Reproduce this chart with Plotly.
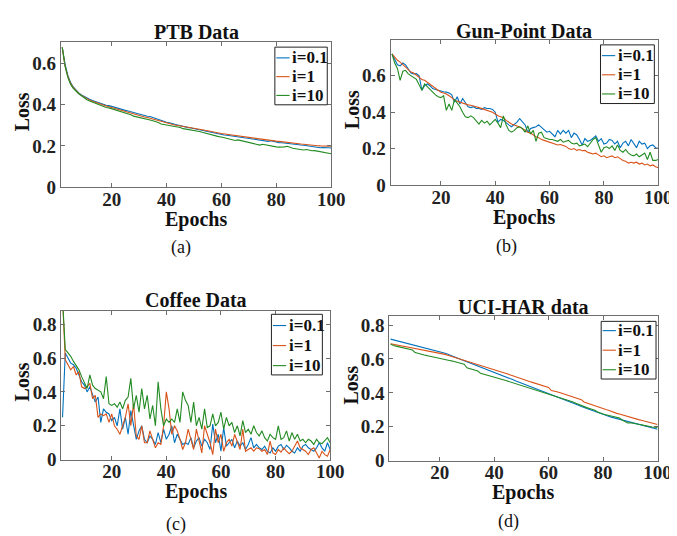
import plotly.graph_objects as go

W, H = 677, 536

epochs = list(range(2, 101))
series_names = ["i=0.1", "i=1", "i=10"]
colors = ["#0072BD", "#D95319", "#228B22"]
x_ticks = [20, 40, 60, 80, 100]

# ---------------- (a) PTB Data ----------------
ptb_01 = [0.680, 0.600, 0.545, 0.510, 0.487, 0.470, 0.458, 0.448, 0.440, 0.432,
          0.427, 0.421, 0.416, 0.412, 0.407, 0.403, 0.398, 0.396, 0.392, 0.387,
          0.384, 0.378, 0.376, 0.373, 0.370, 0.366, 0.362, 0.358, 0.355, 0.350,
          0.347, 0.344, 0.343, 0.338, 0.333, 0.328, 0.325, 0.318, 0.315, 0.313,
          0.308, 0.305, 0.302, 0.298, 0.295, 0.292, 0.289, 0.287, 0.284, 0.281,
          0.279, 0.276, 0.273, 0.270, 0.266, 0.263, 0.261, 0.258, 0.255, 0.253,
          0.252, 0.250, 0.248, 0.247, 0.246, 0.244, 0.242, 0.240, 0.237, 0.235,
          0.234, 0.232, 0.229, 0.228, 0.226, 0.222, 0.225, 0.221, 0.219, 0.216,
          0.215, 0.213, 0.211, 0.212, 0.209, 0.207, 0.206, 0.204, 0.203, 0.201,
          0.198, 0.196, 0.193, 0.194, 0.191, 0.192, 0.193, 0.191, 0.190]
ptb_1 = [0.680, 0.590, 0.540, 0.505, 0.484, 0.468, 0.456, 0.446, 0.437, 0.429,
         0.423, 0.417, 0.412, 0.407, 0.403, 0.398, 0.394, 0.391, 0.387, 0.382,
         0.378, 0.374, 0.371, 0.368, 0.364, 0.360, 0.356, 0.352, 0.349, 0.345,
         0.341, 0.338, 0.334, 0.330, 0.326, 0.323, 0.319, 0.315, 0.312, 0.309,
         0.305, 0.302, 0.300, 0.297, 0.294, 0.292, 0.290, 0.288, 0.286, 0.284,
         0.281, 0.279, 0.276, 0.274, 0.271, 0.268, 0.266, 0.263, 0.260, 0.258,
         0.256, 0.255, 0.253, 0.252, 0.250, 0.248, 0.246, 0.244, 0.242, 0.240,
         0.238, 0.237, 0.235, 0.233, 0.231, 0.229, 0.227, 0.225, 0.223, 0.222,
         0.220, 0.218, 0.217, 0.215, 0.213, 0.212, 0.210, 0.209, 0.208, 0.206,
         0.205, 0.203, 0.202, 0.201, 0.200, 0.199, 0.201, 0.199, 0.198]
ptb_10 = [0.680, 0.590, 0.535, 0.500, 0.480, 0.465, 0.454, 0.444, 0.434, 0.425,
          0.419, 0.413, 0.408, 0.403, 0.398, 0.392, 0.387, 0.385, 0.381, 0.376,
          0.372, 0.368, 0.364, 0.360, 0.357, 0.352, 0.345, 0.342, 0.340, 0.338,
          0.335, 0.330, 0.326, 0.322, 0.319, 0.314, 0.307, 0.305, 0.303, 0.300,
          0.298, 0.294, 0.292, 0.290, 0.284, 0.282, 0.280, 0.279, 0.277, 0.274,
          0.270, 0.266, 0.262, 0.258, 0.255, 0.250, 0.246, 0.245, 0.243, 0.240,
          0.236, 0.232, 0.228, 0.226, 0.229, 0.226, 0.222, 0.218, 0.215, 0.212,
          0.210, 0.207, 0.204, 0.208, 0.205, 0.202, 0.200, 0.198, 0.195, 0.194,
          0.193, 0.195, 0.198, 0.192, 0.188, 0.186, 0.184, 0.185, 0.180, 0.182,
          0.178, 0.176, 0.177, 0.174, 0.172, 0.170, 0.167, 0.165, 0.162]

# ---------------- (b) Gun-Point Data ----------------
gun_01 = [0.720, 0.690, 0.660, 0.655, 0.670, 0.660, 0.635, 0.615, 0.610, 0.612,
          0.600, 0.520, 0.545, 0.555, 0.545, 0.530, 0.525, 0.520, 0.515, 0.512,
          0.510, 0.505, 0.495, 0.455, 0.485, 0.445, 0.475, 0.450, 0.430, 0.425,
          0.430, 0.420, 0.420, 0.415, 0.425, 0.420, 0.420, 0.415, 0.400, 0.345,
          0.360, 0.355, 0.340, 0.330, 0.320, 0.330, 0.345, 0.365, 0.350, 0.330,
          0.290, 0.310, 0.315, 0.320, 0.330, 0.315, 0.300, 0.290, 0.295, 0.280,
          0.265, 0.300, 0.280, 0.300, 0.285, 0.300, 0.260, 0.285, 0.275, 0.250,
          0.220, 0.255, 0.240, 0.245, 0.260, 0.270, 0.240, 0.255, 0.225, 0.230,
          0.250, 0.245, 0.225, 0.240, 0.205, 0.230, 0.240, 0.215, 0.250, 0.230,
          0.205, 0.240, 0.225, 0.230, 0.200, 0.215, 0.220, 0.205, 0.200]
gun_1 = [0.720, 0.700, 0.685, 0.675, 0.660, 0.645, 0.635, 0.620, 0.615, 0.605,
         0.590, 0.580, 0.575, 0.565, 0.550, 0.540, 0.530, 0.520, 0.510, 0.505,
         0.500, 0.490, 0.480, 0.465, 0.460, 0.455, 0.448, 0.445, 0.440, 0.438,
         0.436, 0.430, 0.425, 0.420, 0.418, 0.410, 0.405, 0.400, 0.390, 0.380,
         0.375, 0.370, 0.355, 0.345, 0.335, 0.330, 0.325, 0.318, 0.310, 0.300,
         0.290, 0.285, 0.275, 0.265, 0.260, 0.250, 0.245, 0.240, 0.232, 0.230,
         0.225, 0.220, 0.222, 0.215, 0.212, 0.200, 0.195, 0.200, 0.190, 0.195,
         0.188, 0.190, 0.180, 0.175, 0.170, 0.175, 0.165, 0.155, 0.160, 0.150,
         0.155, 0.160, 0.150, 0.155, 0.145, 0.135, 0.130, 0.120, 0.125, 0.120,
         0.125, 0.115, 0.120, 0.110, 0.115, 0.105, 0.110, 0.100, 0.095]
gun_10 = [0.720, 0.670, 0.640, 0.575, 0.625, 0.630, 0.610, 0.600, 0.590, 0.580,
          0.550, 0.520, 0.555, 0.540, 0.520, 0.510, 0.495, 0.485, 0.480, 0.490,
          0.410, 0.445, 0.410, 0.470, 0.450, 0.430, 0.400, 0.375, 0.370, 0.380,
          0.370, 0.355, 0.335, 0.355, 0.340, 0.350, 0.330, 0.345, 0.360, 0.340,
          0.315, 0.380, 0.330, 0.300, 0.290, 0.300, 0.315, 0.320, 0.310, 0.290,
          0.325, 0.280, 0.300, 0.240, 0.285, 0.290, 0.260, 0.255, 0.250, 0.250,
          0.245, 0.240, 0.250, 0.235, 0.240, 0.245, 0.230, 0.225, 0.230, 0.215,
          0.220, 0.225, 0.210, 0.230, 0.250, 0.260, 0.215, 0.180, 0.205, 0.210,
          0.200, 0.215, 0.190, 0.220, 0.190, 0.180, 0.195, 0.175, 0.165, 0.160,
          0.170, 0.155, 0.165, 0.175, 0.140, 0.180, 0.135, 0.135, 0.140]

# ---------------- (c) Coffee Data ----------------
coffee_01 = [0.250, 0.630, 0.600, 0.570, 0.560, 0.540, 0.500, 0.460, 0.440, 0.400,
             0.430, 0.380, 0.340, 0.370, 0.220, 0.300, 0.280, 0.270, 0.230, 0.250,
             0.200, 0.300, 0.180, 0.250, 0.150, 0.290, 0.200, 0.120, 0.170, 0.200,
             0.120, 0.100, 0.140, 0.120, 0.090, 0.160, 0.100, 0.180, 0.120, 0.150,
             0.200, 0.100, 0.150, 0.120, 0.090, 0.100, 0.090, 0.130, 0.070, 0.110,
             0.130, 0.080, 0.120, 0.100, 0.060, 0.210, 0.100, 0.150, 0.050, 0.190,
             0.080, 0.100, 0.120, 0.070, 0.110, 0.080, 0.100, 0.060, 0.090, 0.130,
             0.070, 0.090, 0.070, 0.060, 0.080, 0.050, 0.040, 0.070, 0.050, 0.080,
             0.090, 0.060, 0.085, 0.070, 0.050, 0.040, 0.070, 0.050, 0.080, 0.090,
             0.070, 0.060, 0.050, 0.070, 0.100, 0.070, 0.050, 0.100, 0.060]
coffee_1 = [0.950, 0.590, 0.560, 0.530, 0.550, 0.500, 0.520, 0.430, 0.420, 0.430,
            0.450, 0.360, 0.380, 0.250, 0.270, 0.260, 0.270, 0.220, 0.270, 0.200,
            0.180, 0.150, 0.200, 0.250, 0.330, 0.200, 0.330, 0.140, 0.120, 0.200,
            0.100, 0.100, 0.170, 0.120, 0.070, 0.100, 0.090, 0.200, 0.400, 0.300,
            0.150, 0.200, 0.170, 0.120, 0.060, 0.100, 0.180, 0.120, 0.060, 0.180,
            0.100, 0.040, 0.200, 0.150, 0.100, 0.030, 0.180, 0.100, 0.150, 0.050,
            0.100, 0.120, 0.080, 0.150, 0.100, 0.060, 0.180, 0.050, 0.060, 0.070,
            0.050, 0.070, 0.065, 0.050, 0.060, 0.030, 0.110, 0.040, 0.030, 0.060,
            0.045, 0.070, 0.050, 0.035, 0.050, 0.080, 0.110, 0.070, 0.060, 0.050,
            0.030, 0.060, 0.070, 0.040, 0.010, 0.050, 0.030, 0.020, 0.060]
coffee_10 = [0.950, 0.650, 0.630, 0.610, 0.580, 0.555, 0.530, 0.490, 0.450, 0.420,
             0.500, 0.440, 0.420, 0.410, 0.400, 0.360, 0.490, 0.330, 0.320, 0.330,
             0.310, 0.340, 0.300, 0.350, 0.370, 0.480, 0.300, 0.380, 0.280, 0.420,
             0.300, 0.380, 0.240, 0.320, 0.200, 0.460, 0.300, 0.200, 0.240, 0.220,
             0.240, 0.220, 0.300, 0.220, 0.400, 0.350, 0.320, 0.220, 0.340, 0.200,
             0.250, 0.180, 0.300, 0.190, 0.200, 0.270, 0.200, 0.220, 0.280, 0.180,
             0.250, 0.200, 0.220, 0.160, 0.200, 0.140, 0.230, 0.160, 0.180, 0.150,
             0.200, 0.160, 0.140, 0.170, 0.130, 0.110, 0.150, 0.130, 0.120, 0.200,
             0.120, 0.130, 0.170, 0.110, 0.160, 0.120, 0.150, 0.110, 0.120, 0.100,
             0.120, 0.110, 0.090, 0.120, 0.100, 0.095, 0.110, 0.130, 0.100]

# ---------------- (d) UCI-HAR data ----------------
uci_01 = [0.717, 0.713, 0.709, 0.705, 0.701, 0.697, 0.694, 0.690, 0.686, 0.682,
          0.678, 0.674, 0.670, 0.666, 0.662, 0.658, 0.654, 0.650, 0.646, 0.640,
          0.634, 0.628, 0.621, 0.615, 0.609, 0.602, 0.596, 0.590, 0.584, 0.578,
          0.571, 0.565, 0.558, 0.552, 0.546, 0.539, 0.533, 0.527, 0.520, 0.514,
          0.508, 0.502, 0.495, 0.489, 0.483, 0.477, 0.470, 0.464, 0.458, 0.452,
          0.445, 0.439, 0.433, 0.427, 0.420, 0.414, 0.408, 0.402, 0.396, 0.390,
          0.383, 0.377, 0.371, 0.364, 0.358, 0.352, 0.346, 0.339, 0.333, 0.327,
          0.320, 0.314, 0.308, 0.302, 0.295, 0.289, 0.283, 0.276, 0.270, 0.266,
          0.262, 0.257, 0.253, 0.249, 0.244, 0.240, 0.236, 0.231, 0.227, 0.223,
          0.219, 0.215, 0.210, 0.206, 0.202, 0.198, 0.194, 0.189, 0.185]
uci_1 = [0.690, 0.687, 0.684, 0.681, 0.678, 0.675, 0.672, 0.669, 0.666, 0.663,
         0.660, 0.657, 0.654, 0.651, 0.648, 0.645, 0.642, 0.640, 0.637, 0.632,
         0.627, 0.622, 0.617, 0.613, 0.608, 0.603, 0.598, 0.594, 0.589, 0.584,
         0.579, 0.574, 0.569, 0.564, 0.559, 0.554, 0.549, 0.545, 0.540, 0.534,
         0.528, 0.523, 0.517, 0.511, 0.505, 0.499, 0.493, 0.487, 0.481, 0.475,
         0.472, 0.467, 0.462, 0.457, 0.452, 0.447, 0.442, 0.437, 0.432, 0.414,
         0.412, 0.407, 0.402, 0.397, 0.392, 0.387, 0.382, 0.377, 0.372, 0.366,
         0.360, 0.346, 0.340, 0.334, 0.329, 0.324, 0.318, 0.313, 0.306, 0.302,
         0.297, 0.290, 0.284, 0.279, 0.275, 0.270, 0.264, 0.258, 0.254, 0.250,
         0.246, 0.242, 0.238, 0.234, 0.230, 0.226, 0.222, 0.217, 0.213]
uci_10 = [0.688, 0.679, 0.676, 0.672, 0.668, 0.664, 0.660, 0.657, 0.653, 0.638,
          0.633, 0.629, 0.625, 0.621, 0.618, 0.614, 0.610, 0.607, 0.604, 0.600,
          0.597, 0.594, 0.590, 0.587, 0.583, 0.579, 0.575, 0.569, 0.548, 0.544,
          0.540, 0.535, 0.529, 0.515, 0.511, 0.506, 0.501, 0.497, 0.493, 0.489,
          0.484, 0.479, 0.474, 0.469, 0.464, 0.459, 0.454, 0.449, 0.444, 0.439,
          0.434, 0.429, 0.424, 0.419, 0.414, 0.409, 0.404, 0.399, 0.394, 0.389,
          0.384, 0.378, 0.372, 0.366, 0.361, 0.358, 0.352, 0.346, 0.339, 0.332,
          0.324, 0.318, 0.313, 0.308, 0.303, 0.297, 0.287, 0.280, 0.275, 0.271,
          0.267, 0.263, 0.259, 0.256, 0.252, 0.240, 0.233, 0.222, 0.224, 0.222,
          0.219, 0.216, 0.212, 0.208, 0.204, 0.201, 0.199, 0.197, 0.195]

titles = ["PTB Data", "Gun-Point Data", "Coffee Data", "UCI-HAR data"]
captions = ["(a)", "(b)", "(c)", "(d)"]
y_ticks_a = [0, 0.2, 0.4, 0.6]
y_ticks_c = [0, 0.2, 0.4, 0.6, 0.8]

panels = [
    dict(series=[ptb_01, ptb_1, ptb_10], box=(54, 34, 330, 182), ymax=0.705,
         yt=y_ticks_a, leg=(272.5, 39, 326, 98), rows=(11, 19.2), cap=(177, 244), title_y=24),
    dict(series=[gun_01, gun_1, gun_10], box=(390.7, 32, 664, 180), ymax=0.795,
         yt=y_ticks_a, leg=(605, 36.7, 660, 96.7), rows=(11, 19.6), cap=(509, 243), title_y=22),
    dict(series=[coffee_01, coffee_1, coffee_10], box=(54.3, 309, 329, 461), ymax=0.877,
         yt=y_ticks_c, leg=(269, 312.3, 321, 374.3), rows=(11.5, 20.5), cap=(172, 527), title_y=298),
    dict(series=[uci_01, uci_1, uci_10], box=(389.3, 314.3, 663.3, 462), ymax=0.852,
         yt=y_ticks_c, leg=(605.7, 319.5, 661.7, 378.5), rows=(9.5, 20), cap=(511, 524), title_y=305),
]

SERIF = "Liberation Serif"
AXC = "#6e6e6e"


def px(x):
    return x / W


def py(y):
    return 1 - y / H


fig = go.Figure()
layout = dict(width=W, height=H, margin=dict(l=0, r=0, t=0, b=0),
              paper_bgcolor="white", plot_bgcolor="white", showlegend=False)
annotations = []
shapes = []

for k, p in enumerate(panels, start=1):
    xa = "x" if k == 1 else f"x{k}"
    ya = "y" if k == 1 else f"y{k}"
    for vals, name, col in zip(p["series"], series_names, colors):
        fig.add_trace(go.Scatter(x=epochs, y=vals, name=name, mode="lines",
                                 line=dict(color=col, width=1.1),
                                 xaxis=xa, yaxis=ya, showlegend=False))
    x0, y0, x1, y1 = p["box"]
    suffix = "" if k == 1 else str(k)
    layout["xaxis" + suffix] = dict(
        domain=[px(x0), px(x1)], range=[1.5, 100], anchor=ya,
        tickvals=x_ticks, ticktext=[f"<b>{v}</b>" for v in x_ticks],
        ticks="inside", ticklen=4, tickcolor=AXC, mirror="ticks",
        ticklabelstandoff=-5,
        showline=True, linecolor=AXC, linewidth=1, showgrid=False, zeroline=False,
        tickfont=dict(family=SERIF, size=19, color="#222222"))
    layout["yaxis" + suffix] = dict(
        domain=[py(y1), py(y0)], range=[0, p["ymax"]], anchor=xa,
        tickvals=p["yt"],
        ticktext=[("<b>0</b>" if v == 0 else f"<b>{v:.1f}</b>") for v in p["yt"]],
        ticks="inside", ticklen=4, tickcolor=AXC, mirror="ticks",
        showline=True, linecolor=AXC, linewidth=1, showgrid=False, zeroline=False,
        tickfont=dict(family=SERIF, size=19, color="#222222"))
    cx = (x0 + x1) / 2
    annotations.append(dict(text=f"<b>{titles[k-1]}</b>", x=px(cx), y=py(p["title_y"]),
                            xref="paper", yref="paper", showarrow=False,
                            xanchor="center", yanchor="middle",
                            font=dict(family=SERIF, size=20, color="#111111")))
    annotations.append(dict(text="<b>Epochs</b>", x=px(cx), y=py(y1 + 33),
                            xref="paper", yref="paper", showarrow=False,
                            xanchor="center", yanchor="middle",
                            font=dict(family=SERIF, size=20, color="#111111")))
    annotations.append(dict(text="<b>Loss</b>", x=px(x0 - 40), y=py((y0 + y1) / 2 - 3),
                            xref="paper", yref="paper", showarrow=False, textangle=-90,
                            xanchor="center", yanchor="middle",
                            font=dict(family=SERIF, size=20, color="#111111")))
    annotations.append(dict(text=captions[k-1], x=px(p["cap"][0]), y=py(p["cap"][1]),
                            xref="paper", yref="paper", showarrow=False,
                            xanchor="center", yanchor="middle",
                            font=dict(family=SERIF, size=18, color="#111111")))
    lx0, ly0, lx1, ly1 = p["leg"]
    shapes.append(dict(type="rect", xref="paper", yref="paper",
                       x0=px(lx0), x1=px(lx1), y0=py(ly1), y1=py(ly0),
                       line=dict(color="#222222", width=1), fillcolor="white", layer="above"))
    r0, dr = p["rows"]
    for j, (name, col) in enumerate(zip(series_names, colors)):
        ry = ly0 + r0 + dr * j
        shapes.append(dict(type="line", xref="paper", yref="paper",
                           x0=px(lx0 + 1.5), x1=px(lx0 + 15), y0=py(ry), y1=py(ry),
                           line=dict(color=col, width=1.1), layer="above"))
        annotations.append(dict(text=f"<b>{name}</b>", x=px(lx0 + 15.5), y=py(ry),
                                xref="paper", yref="paper", showarrow=False,
                                xanchor="left", yanchor="middle",
                                font=dict(family=SERIF, size=17, color="#111111")))

layout["annotations"] = annotations
layout["shapes"] = shapes
fig.update_layout(**layout)
fig.write_html("out.html")
